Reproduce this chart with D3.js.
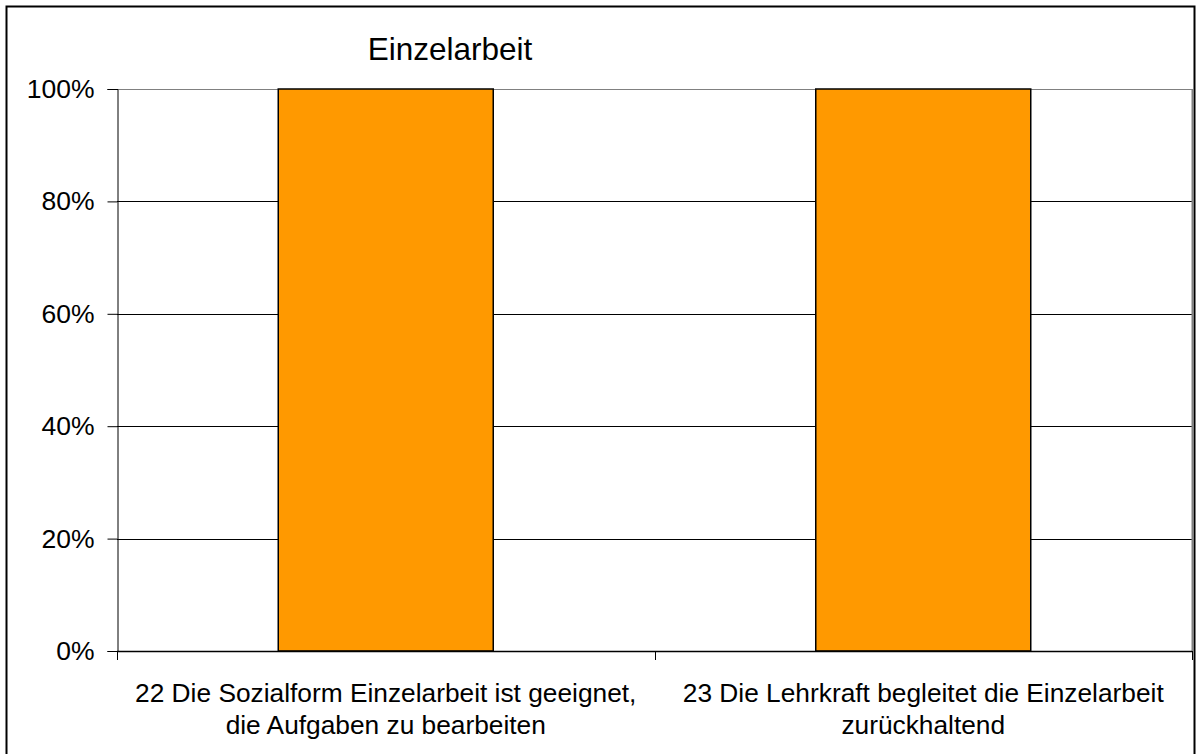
<!DOCTYPE html>
<html>
<head>
<meta charset="utf-8">
<script src="https://cdn.jsdelivr.net/npm/d3@7"></script>
<style>
  body { margin: 0; background: #fff; }
  svg text { font-family: "Liberation Sans", Arial, sans-serif; fill: #000; }
</style>
</head>
<body>
<div id="chart"></div>
<script>
// Daten
const chartTitle = "Einzelarbeit";
const categories = [
    ["22 Die Sozialform Einzelarbeit ist geeignet,", "die Aufgaben zu bearbeiten"],
    ["23 Die Lehrkraft begleitet die Einzelarbeit", "zurückhaltend"]
];
const values = [1.0, 1.0];
const yTicks = [0, 0.2, 0.4, 0.6, 0.8, 1.0];

function drawChart() {
    const width = 1196, height = 754;
    const plot = { left: 117, top: 89, right: 1192, bottom: 651 };

    const svg = d3.select("#chart")
                  .append("svg")
                  .attr("width", width)
                  .attr("height", height);

    // Rahmen
    svg.append("rect")
       .attr("x", 6.5).attr("y", 6.5)
       .attr("width", 1188).attr("height", 760)
       .attr("fill", "none")
       .attr("stroke", "#000")
       .attr("stroke-width", 2);

    const x = d3.scaleBand()
                .domain(d3.range(categories.length))
                .range([plot.left, plot.right])
                .paddingInner(0.6)
                .paddingOuter(0.3);
    const xEdge = d3.scaleLinear()
                    .domain([0, categories.length])
                    .range([plot.left, plot.right]);
    const y = d3.scaleLinear()
                .domain([0, 1])
                .range([plot.bottom, plot.top]);

    // Gitterlinien
    svg.append("g")
       .selectAll("line")
       .data(yTicks.filter(d => d > 0))
       .enter()
       .append("line")
       .attr("x1", plot.left).attr("x2", plot.right)
       .attr("y1", d => Math.round(y(d)) + 0.5)
       .attr("y2", d => Math.round(y(d)) + 0.5)
       .attr("stroke", d => d === 1 ? "#808080" : "#000")
       .attr("stroke-width", 1);

    // rechter Rand der Zeichenfläche
    svg.append("line")
       .attr("x1", plot.right + 0.5).attr("x2", plot.right + 0.5)
       .attr("y1", plot.top).attr("y2", plot.bottom)
       .attr("stroke", "#808080")
       .attr("stroke-width", 2);

    // Balken
    svg.append("g")
       .selectAll("rect")
       .data(values)
       .enter()
       .append("rect")
       .attr("x", (d, i) => x(i))
       .attr("y", d => y(d))
       .attr("width", x.bandwidth())
       .attr("height", d => y(0) - y(d))
       .attr("fill", "#FF9900")
       .attr("stroke", "#000")
       .attr("stroke-width", 1.5);

    // y-Achse
    const yAxis = d3.axisLeft(y)
                    .tickValues(yTicks)
                    .tickFormat(d3.format(".0%"))
                    .tickSize(10)
                    .tickPadding(13);
    const gy = svg.append("g")
                  .attr("transform", `translate(${plot.left + 0.5},0)`)
                  .call(yAxis);
    gy.select(".domain").attr("stroke", "#000");
    gy.selectAll(".tick line").attr("stroke", "#000");
    gy.selectAll(".tick text")
      .attr("font-size", "26.5px")
      .attr("font-family", "Liberation Sans, Arial, sans-serif")
      .attr("fill", "#000");

    // x-Achse
    svg.append("line")
       .attr("x1", plot.left).attr("x2", plot.right)
       .attr("y1", plot.bottom + 0.5).attr("y2", plot.bottom + 0.5)
       .attr("stroke", "#000").attr("stroke-width", 1.5);
    svg.append("g")
       .selectAll("line")
       .data(d3.range(categories.length + 1))
       .enter()
       .append("line")
       .attr("x1", d => Math.round(xEdge(d)) + 0.5)
       .attr("x2", d => Math.round(xEdge(d)) + 0.5)
       .attr("y1", plot.bottom)
       .attr("y2", plot.bottom + 9)
       .attr("stroke", "#000");

    // Kategorienbeschriftung
    const labels = svg.append("g")
                      .selectAll("text")
                      .data(categories)
                      .enter()
                      .append("text")
                      .attr("text-anchor", "middle")
                      .attr("font-size", "26.3px")
                      .attr("transform", (d, i) => `translate(${x(i) + x.bandwidth() / 2},702)`);
    labels.selectAll("tspan")
          .data(d => d)
          .enter()
          .append("tspan")
          .attr("x", 0)
          .attr("y", (d, i) => i * 32)
          .text(d => d);

    // Titel
    svg.append("text")
       .attr("x", 450)
       .attr("y", 60)
       .attr("text-anchor", "middle")
       .attr("font-size", "31.5px")
       .text(chartTitle);
}

drawChart();
</script>
</body>
</html>
